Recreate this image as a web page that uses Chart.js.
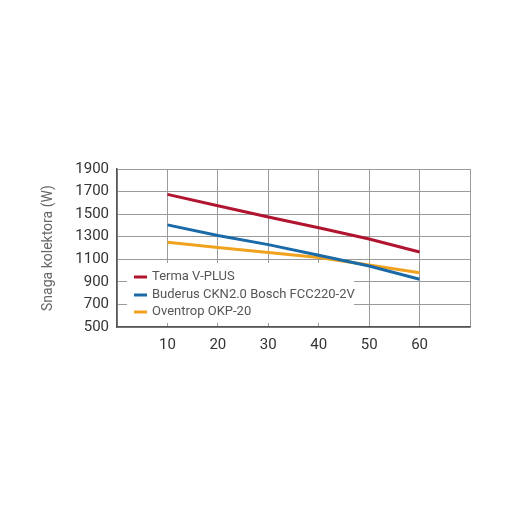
<!DOCTYPE html>
<html>
<head>
<meta charset="utf-8">
<script src="https://cdn.jsdelivr.net/npm/chart.js@4"></script>
<style>
html,body{margin:0;padding:0;background:#fff;}
#wrap{width:515px;height:515px;position:relative;}
</style>
</head>
<body>
<div id="wrap"><canvas id="c" width="515" height="515"></canvas></div>
<script>
const xValues = [10, 20, 30, 40, 50, 60];
const terma = [1675, 1575, 1475, 1380, 1280, 1165];
const buderus = [1405, 1310, 1230, 1135, 1040, 923];
const oventrop = [1250, 1205, 1160, 1115, 1050, 980];
const seriesNames = ['Terma V-PLUS', 'Buderus CKN2.0 Bosch FCC220-2V', 'Oventrop OKP-20'];
const seriesColors = ['#b0142e', '#1b6aa8', '#f0a21f'];
const yTitle = 'Snaga kolektora (W)';
const yMin = 500, yMax = 1900, yStep = 200;
const xMin = 0, xMax = 70, xStep = 10;

const seriesData = [terma, buderus, oventrop];
const datasets = seriesData.map((vals, i) => ({
  label: seriesNames[i],
  data: vals.map((v, j) => ({x: xValues[j], y: v})),
  borderColor: seriesColors[i],
  backgroundColor: seriesColors[i],
  borderWidth: 3,
  pointRadius: 0,
  fill: false,
  tension: 0
}));

const FONT = 'Roboto, "Noto Sans", sans-serif';

const insideLegend = {
  id: 'insideLegend',
  beforeDatasetsDraw(chart) {
    const ctx = chart.ctx;
    const xs = chart.scales.x, ys = chart.scales.y;
    ctx.save();
    ctx.fillStyle = '#ffffff';
    const left = xs.left + 10, right = 354, top = 263, bottom = ys.bottom - 4;
    ctx.fillRect(left, top, right - left, bottom - top);
    ctx.font = '13px ' + FONT;
    ctx.textBaseline = 'middle';
    ctx.textAlign = 'left';
    const rows = [277, 295, 312];
    chart.data.datasets.forEach((ds, i) => {
      ctx.strokeStyle = ds.borderColor;
      ctx.lineWidth = 3;
      ctx.beginPath();
      ctx.moveTo(134, rows[i]);
      ctx.lineTo(147, rows[i]);
      ctx.stroke();
      ctx.fillStyle = '#555';
      ctx.fillText(ds.label, 152, rows[i]);
    });
    ctx.restore();
  }
};

new Chart(document.getElementById('c'), {
  type: 'line',
  data: {datasets},
  plugins: [insideLegend],
  options: {
    responsive: false,
    animation: false,
    devicePixelRatio: 1,
    layout: {padding: {left: 0, right: 45, top: 169, bottom: 0}},
    plugins: {legend: {display: false}, tooltip: {enabled: false}},
    scales: {
      x: {
        type: 'linear',
        min: xMin, max: xMax,
        afterFit(s) { s.height = 188; },
        ticks: {
          stepSize: xStep,
          padding: 9,
          color: '#333',
          font: {family: FONT, size: 15},
          callback: (v) => (v === xMin || v === xMax) ? '' : String(v)
        },
        grid: {color: '#9a9a9a', lineWidth: 1, drawTicks: false},
        border: {color: '#555', width: 1.5}
      },
      y: {
        min: yMin, max: yMax,
        afterFit(s) { s.width = 117; },
        ticks: {
          stepSize: yStep,
          padding: 8,
          color: '#333',
          font: {family: FONT, size: 15},
          callback: (v) => String(v)
        },
        grid: {color: '#9a9a9a', lineWidth: 1, drawTicks: false},
        border: {color: '#555', width: 1.5},
        title: {
          display: true,
          text: yTitle,
          color: '#666',
          font: {family: FONT, size: 14},
          padding: {top: 40, bottom: 0}
        }
      }
    }
  }
});
</script>
</body>
</html>
